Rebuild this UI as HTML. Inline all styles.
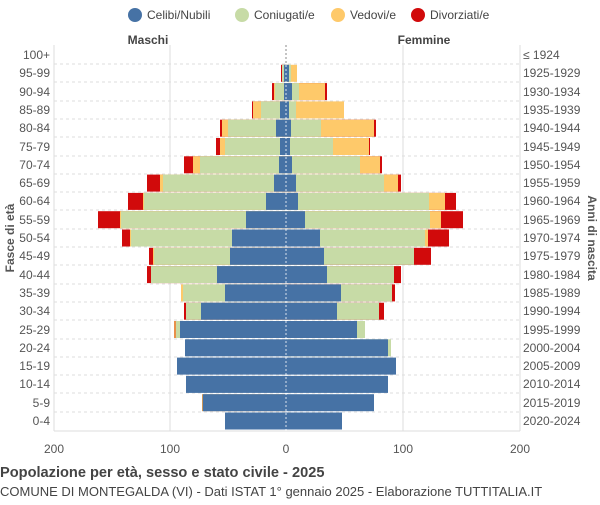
<!DOCTYPE html><html><head><style>body{margin:0;background:#fff}svg{font-family:"Liberation Sans",sans-serif}</style></head><body>
<svg width="600" height="500" xmlns="http://www.w3.org/2000/svg">
<circle cx="135" cy="15" r="7" fill="#4672a5"/><text x="147" y="19" font-size="12" fill="#444">Celibi/Nubili</text>
<circle cx="242" cy="15" r="7" fill="#c7dba6"/><text x="254" y="19" font-size="12" fill="#444">Coniugati/e</text>
<circle cx="338" cy="15" r="7" fill="#fec96a"/><text x="350" y="19" font-size="12" fill="#444">Vedovi/e</text>
<circle cx="418" cy="15" r="7" fill="#d10a0b"/><text x="430" y="19" font-size="12" fill="#444">Divorziati/e</text>
<text x="148" y="44" font-size="12" font-weight="bold" fill="#444" text-anchor="middle">Maschi</text>
<text x="424" y="44" font-size="12" font-weight="bold" fill="#444" text-anchor="middle">Femmine</text>
<g stroke="#ddd" stroke-width="1">
<line x1="54" y1="45" x2="54" y2="431"/><line x1="170" y1="45" x2="170" y2="431"/><line x1="403" y1="45" x2="403" y2="431"/><line x1="520" y1="45" x2="520" y2="431"/>
<line x1="54" y1="431" x2="520" y2="431"/></g>
<g stroke="#ddd" stroke-dasharray="3,3">
<line x1="54" y1="64" x2="520" y2="64"/><line x1="54" y1="82" x2="520" y2="82"/><line x1="54" y1="101" x2="520" y2="101"/><line x1="54" y1="119" x2="520" y2="119"/><line x1="54" y1="137" x2="520" y2="137"/><line x1="54" y1="156" x2="520" y2="156"/><line x1="54" y1="174" x2="520" y2="174"/><line x1="54" y1="192" x2="520" y2="192"/><line x1="54" y1="210" x2="520" y2="210"/><line x1="54" y1="229" x2="520" y2="229"/><line x1="54" y1="247" x2="520" y2="247"/><line x1="54" y1="265" x2="520" y2="265"/><line x1="54" y1="284" x2="520" y2="284"/><line x1="54" y1="302" x2="520" y2="302"/><line x1="54" y1="320" x2="520" y2="320"/><line x1="54" y1="339" x2="520" y2="339"/><line x1="54" y1="357" x2="520" y2="357"/><line x1="54" y1="375" x2="520" y2="375"/><line x1="54" y1="393" x2="520" y2="393"/><line x1="54" y1="412" x2="520" y2="412"/></g>
<g>
<g transform="translate(0,64.8)"><rect x="281" width="5" height="17" fill="#d10a0b"/><rect x="282" width="4" height="17" fill="#c7dba6"/><rect x="284" width="2" height="17" fill="#4672a5"/><rect x="286" width="11" height="17" fill="#fec96a"/><rect x="286" width="5" height="17" fill="#c7dba6"/><rect x="286" width="3" height="17" fill="#4672a5"/></g>
<g transform="translate(0,83.1)"><rect x="272" width="14" height="17" fill="#d10a0b"/><rect x="274" width="12" height="17" fill="#fec96a"/><rect x="275" width="11" height="17" fill="#c7dba6"/><rect x="284" width="2" height="17" fill="#4672a5"/><rect x="286" width="41" height="17" fill="#d10a0b"/><rect x="286" width="39" height="17" fill="#fec96a"/><rect x="286" width="13" height="17" fill="#c7dba6"/><rect x="286" width="6" height="17" fill="#4672a5"/></g>
<g transform="translate(0,101.4)"><rect x="252" width="34" height="17" fill="#d10a0b"/><rect x="253" width="33" height="17" fill="#fec96a"/><rect x="261" width="25" height="17" fill="#c7dba6"/><rect x="280" width="6" height="17" fill="#4672a5"/><rect x="286" width="58" height="17" fill="#fec96a"/><rect x="286" width="10" height="17" fill="#c7dba6"/><rect x="286" width="3" height="17" fill="#4672a5"/></g>
<g transform="translate(0,119.7)"><rect x="220" width="66" height="17" fill="#d10a0b"/><rect x="222" width="64" height="17" fill="#fec96a"/><rect x="228" width="58" height="17" fill="#c7dba6"/><rect x="276" width="10" height="17" fill="#4672a5"/><rect x="286" width="90" height="17" fill="#d10a0b"/><rect x="286" width="88" height="17" fill="#fec96a"/><rect x="286" width="35" height="17" fill="#c7dba6"/><rect x="286" width="5" height="17" fill="#4672a5"/></g>
<g transform="translate(0,138)"><rect x="216" width="70" height="17" fill="#d10a0b"/><rect x="220" width="66" height="17" fill="#fec96a"/><rect x="225" width="61" height="17" fill="#c7dba6"/><rect x="280" width="6" height="17" fill="#4672a5"/><rect x="286" width="84" height="17" fill="#d10a0b"/><rect x="286" width="83" height="17" fill="#fec96a"/><rect x="286" width="47" height="17" fill="#c7dba6"/><rect x="286" width="4" height="17" fill="#4672a5"/></g>
<g transform="translate(0,156.3)"><rect x="184" width="102" height="17" fill="#d10a0b"/><rect x="193" width="93" height="17" fill="#fec96a"/><rect x="200" width="86" height="17" fill="#c7dba6"/><rect x="279" width="7" height="17" fill="#4672a5"/><rect x="286" width="96" height="17" fill="#d10a0b"/><rect x="286" width="94" height="17" fill="#fec96a"/><rect x="286" width="74" height="17" fill="#c7dba6"/><rect x="286" width="6" height="17" fill="#4672a5"/></g>
<g transform="translate(0,174.6)"><rect x="147" width="139" height="17" fill="#d10a0b"/><rect x="160" width="126" height="17" fill="#fec96a"/><rect x="163" width="123" height="17" fill="#c7dba6"/><rect x="274" width="12" height="17" fill="#4672a5"/><rect x="286" width="115" height="17" fill="#d10a0b"/><rect x="286" width="112" height="17" fill="#fec96a"/><rect x="286" width="98" height="17" fill="#c7dba6"/><rect x="286" width="10" height="17" fill="#4672a5"/></g>
<g transform="translate(0,192.9)"><rect x="128" width="158" height="17" fill="#d10a0b"/><rect x="143" width="143" height="17" fill="#fec96a"/><rect x="144" width="142" height="17" fill="#c7dba6"/><rect x="266" width="20" height="17" fill="#4672a5"/><rect x="286" width="170" height="17" fill="#d10a0b"/><rect x="286" width="159" height="17" fill="#fec96a"/><rect x="286" width="143" height="17" fill="#c7dba6"/><rect x="286" width="12" height="17" fill="#4672a5"/></g>
<g transform="translate(0,211.2)"><rect x="98" width="188" height="17" fill="#d10a0b"/><rect x="120" width="166" height="17" fill="#fec96a"/><rect x="121" width="165" height="17" fill="#c7dba6"/><rect x="246" width="40" height="17" fill="#4672a5"/><rect x="286" width="177" height="17" fill="#d10a0b"/><rect x="286" width="155" height="17" fill="#fec96a"/><rect x="286" width="144" height="17" fill="#c7dba6"/><rect x="286" width="19" height="17" fill="#4672a5"/></g>
<g transform="translate(0,229.5)"><rect x="122" width="164" height="17" fill="#d10a0b"/><rect x="130" width="156" height="17" fill="#fec96a"/><rect x="131" width="155" height="17" fill="#c7dba6"/><rect x="232" width="54" height="17" fill="#4672a5"/><rect x="286" width="163" height="17" fill="#d10a0b"/><rect x="286" width="142" height="17" fill="#fec96a"/><rect x="286" width="139" height="17" fill="#c7dba6"/><rect x="286" width="34" height="17" fill="#4672a5"/></g>
<g transform="translate(0,247.8)"><rect x="149" width="137" height="17" fill="#d10a0b"/><rect x="153" width="133" height="17" fill="#fec96a"/><rect x="154" width="132" height="17" fill="#c7dba6"/><rect x="230" width="56" height="17" fill="#4672a5"/><rect x="286" width="145" height="17" fill="#d10a0b"/><rect x="286" width="128" height="17" fill="#c7dba6"/><rect x="286" width="38" height="17" fill="#4672a5"/></g>
<g transform="translate(0,266.1)"><rect x="147" width="139" height="17" fill="#d10a0b"/><rect x="151" width="135" height="17" fill="#c7dba6"/><rect x="217" width="69" height="17" fill="#4672a5"/><rect x="286" width="115" height="17" fill="#d10a0b"/><rect x="286" width="108" height="17" fill="#c7dba6"/><rect x="286" width="41" height="17" fill="#4672a5"/></g>
<g transform="translate(0,284.4)"><rect x="181" width="105" height="17" fill="#fec96a"/><rect x="183" width="103" height="17" fill="#c7dba6"/><rect x="225" width="61" height="17" fill="#4672a5"/><rect x="286" width="109" height="17" fill="#d10a0b"/><rect x="286" width="106" height="17" fill="#c7dba6"/><rect x="286" width="55" height="17" fill="#4672a5"/></g>
<g transform="translate(0,302.7)"><rect x="184" width="102" height="17" fill="#d10a0b"/><rect x="186" width="100" height="17" fill="#c7dba6"/><rect x="201" width="85" height="17" fill="#4672a5"/><rect x="286" width="98" height="17" fill="#d10a0b"/><rect x="286" width="93" height="17" fill="#c7dba6"/><rect x="286" width="51" height="17" fill="#4672a5"/></g>
<g transform="translate(0,321)"><rect x="174" width="112" height="17" fill="#e8904a"/><rect x="176" width="110" height="17" fill="#c7dba6"/><rect x="180" width="106" height="17" fill="#4672a5"/><rect x="286" width="79" height="17" fill="#c7dba6"/><rect x="286" width="71" height="17" fill="#4672a5"/></g>
<g transform="translate(0,339.3)"><rect x="185" width="101" height="17" fill="#4672a5"/><rect x="286" width="105" height="17" fill="#c7dba6"/><rect x="286" width="102" height="17" fill="#4672a5"/></g>
<g transform="translate(0,357.6)"><rect x="177" width="109" height="17" fill="#4672a5"/><rect x="286" width="110" height="17" fill="#4672a5"/></g>
<g transform="translate(0,375.9)"><rect x="186" width="100" height="17" fill="#4672a5"/><rect x="286" width="102" height="17" fill="#4672a5"/></g>
<g transform="translate(0,394.2)"><rect x="202" width="84" height="17" fill="#c9955a"/><rect x="203" width="83" height="17" fill="#4672a5"/><rect x="286" width="88" height="17" fill="#4672a5"/></g>
<g transform="translate(0,412.5)"><rect x="225" width="61" height="17" fill="#4672a5"/><rect x="286" width="56" height="17" fill="#4672a5"/></g>
</g>
<line x1="286" y1="45" x2="286" y2="431" stroke="#fff" stroke-dasharray="2,2" opacity="0.8"/>
<line x1="286" y1="45" x2="286" y2="64" stroke="#888" stroke-dasharray="2,2"/>
<g font-size="12" fill="#555" text-anchor="end">
<text x="50" y="59">100+</text><text x="50" y="77">95-99</text><text x="50" y="96">90-94</text><text x="50" y="114">85-89</text><text x="50" y="132">80-84</text><text x="50" y="151">75-79</text><text x="50" y="169">70-74</text><text x="50" y="187">65-69</text><text x="50" y="205">60-64</text><text x="50" y="224">55-59</text><text x="50" y="242">50-54</text><text x="50" y="260">45-49</text><text x="50" y="279">40-44</text><text x="50" y="297">35-39</text><text x="50" y="315">30-34</text><text x="50" y="334">25-29</text><text x="50" y="352">20-24</text><text x="50" y="370">15-19</text><text x="50" y="388">10-14</text><text x="50" y="407">5-9</text><text x="50" y="425">0-4</text></g>
<g font-size="12" fill="#555">
<text x="523" y="59">≤ 1924</text><text x="523" y="77">1925-1929</text><text x="523" y="96">1930-1934</text><text x="523" y="114">1935-1939</text><text x="523" y="132">1940-1944</text><text x="523" y="151">1945-1949</text><text x="523" y="169">1950-1954</text><text x="523" y="187">1955-1959</text><text x="523" y="205">1960-1964</text><text x="523" y="224">1965-1969</text><text x="523" y="242">1970-1974</text><text x="523" y="260">1975-1979</text><text x="523" y="279">1980-1984</text><text x="523" y="297">1985-1989</text><text x="523" y="315">1990-1994</text><text x="523" y="334">1995-1999</text><text x="523" y="352">2000-2004</text><text x="523" y="370">2005-2009</text><text x="523" y="388">2010-2014</text><text x="523" y="407">2015-2019</text><text x="523" y="425">2020-2024</text></g>
<g font-size="12" fill="#555" text-anchor="middle">
<text x="54" y="453">200</text><text x="170" y="453">100</text><text x="286" y="453">0</text><text x="403" y="453">100</text><text x="520" y="453">200</text></g>
<text transform="translate(14,238) rotate(-90)" font-size="12" font-weight="bold" fill="#555" text-anchor="middle">Fasce di età</text>
<text transform="translate(588,238) rotate(90)" font-size="12" font-weight="bold" fill="#555" text-anchor="middle">Anni di nascita</text>
<text x="0" y="477" font-size="14.6" font-weight="bold" fill="#444">Popolazione per età, sesso e stato civile - 2025</text>
<text x="0" y="496" font-size="13" fill="#444">COMUNE DI MONTEGALDA (VI) - Dati ISTAT 1° gennaio 2025 - Elaborazione TUTTITALIA.IT</text>
</svg></body></html>
